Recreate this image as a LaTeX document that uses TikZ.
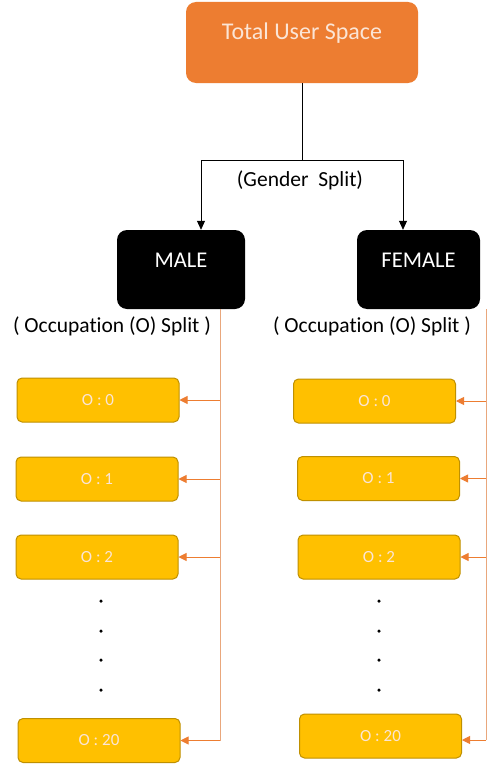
\documentclass[tikz,border=0pt]{standalone}
\usepackage{fontspec}
\setmainfont[Ligatures=NoCommon]{Carlito}
\usetikzlibrary{arrows.meta}
\definecolor{topor}{HTML}{ED7D31}
\definecolor{toptxt}{HTML}{FBE5D6}
\definecolor{occyel}{HTML}{FFC000}
\definecolor{occbrd}{HTML}{BF9000}
\definecolor{occln}{HTML}{E9A77C}
\tikzset{
    rootbox/.style={fill=topor, rounded corners=10pt, minimum width=232pt, minimum height=81pt,
        text=toptxt, font=\fontsize{24}{28}\selectfont, text height=16pt, text depth=21pt},
    gendbox/.style={fill=black, rounded corners=10pt, minimum height=79pt,
        text=white, font=\fontsize{22.5}{26}\selectfont, text height=15pt, text depth=20pt},
    occbox/.style={draw=occbrd, line width=1pt, fill=occyel, rounded corners=5pt,
        minimum width=162pt, minimum height=44pt, text=toptxt, font=\fontsize{17}{20}\selectfont},
    splitlbl/.style={font=\fontsize{21.5}{25}\selectfont, inner sep=0pt},
    blackarr/.style={-{Triangle[length=9pt,width=8pt]}, line width=0.8pt},
    occarr/.style={-{Triangle[length=8pt,width=8pt]}, draw=topor, line width=0.9pt},
    dotpt/.style={circle, fill=black, inner sep=0pt, minimum size=3.5pt}
}
\begin{document}
\begin{tikzpicture}[x=1pt,y=-1pt]
\useasboundingbox[fill=white] (0,0) rectangle (491,768);

% Total
\node[rootbox] (total) at (302,42.5) {Total User Space};

% Gender
\node[gendbox, minimum width=128pt] (male) at (181,269.5) {MALE};
\node[gendbox, minimum width=123pt] (female) at (418.5,269.5) {FEMALE};
\node[splitlbl] (gsplit) at (300,180) {(Gender\ \ Split)};

\coordinate (gmid) at (302,160);
\coordinate (gleft) at (201,160);
\coordinate (gright) at (403,160);
\draw[line width=0.8pt] (total.south) -- (gmid);
\draw[line width=0.8pt] (gleft) -- (gright);
\draw[blackarr] (gleft) -- (male.north -| gleft);
\draw[blackarr] (gright) -- (female.north -| gright);

% Occupation male
\node[splitlbl] (msplit) at (112,326) {( Occupation (O) Split )};
\node[occbox] (m0) at (98,400) {O : 0};
\node[occbox] (m1) at (97,479) {O : 1};
\node[occbox] (m2) at (97,557) {O : 2};
\node[occbox] (m20) at (99,740.5) {O : 20};

% Occupation female
\node[splitlbl] (fsplit) at (372,326) {( Occupation (O) Split )};
\node[occbox] (f0) at (374.5,401) {O : 0};
\node[occbox] (f1) at (378.5,478.5) {O : 1};
\node[occbox] (f2) at (379,557) {O : 2};
\node[occbox] (f20) at (380.5,736) {O : 20};

% dots
\foreach \y in {601,631,660,690} {
    \node[dotpt] at (101,\y) {};
    \node[dotpt] at (379,\y) {};
}

% orange links
\coordinate (mline) at (male.south -| 220,0);
\coordinate (mend) at (220,740.5);
\coordinate (fline) at (female.south -| 486,0);
\coordinate (fend) at (486,740);
\draw[occln, line width=0.8pt] (mline) -- (mend);
\draw[occln, line width=0.8pt] (fline) -- (fend);
\foreach \b in {m0,m1,m2,m20} {
    \draw[occarr] (mline |- \b.east) -- (\b.east);
}
\foreach \b in {f0,f1,f2} {
    \draw[occarr] (fline |- \b.east) -- (\b.east);
}
\draw[occarr] (fend) -- (fend -| f20.east);

\end{tikzpicture}
\end{document}
